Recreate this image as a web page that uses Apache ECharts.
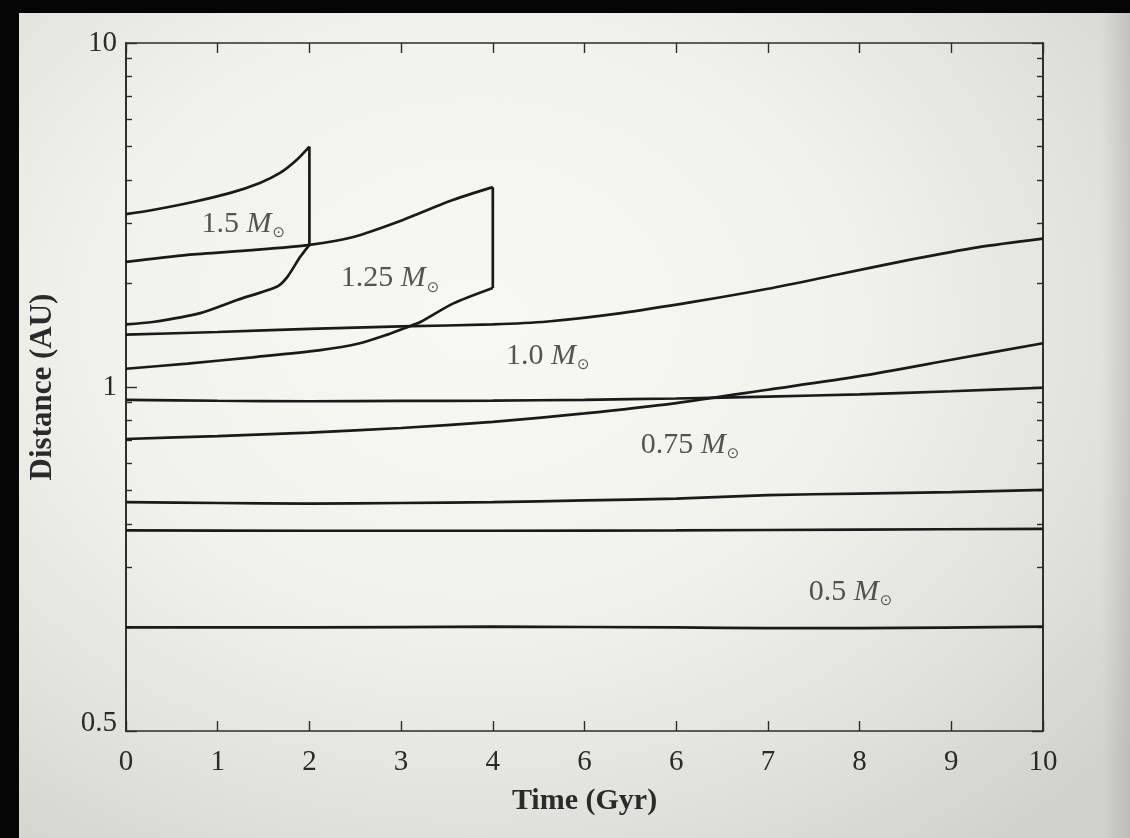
<!DOCTYPE html>
<html>
<head>
<meta charset="utf-8">
<title>Habitable zone evolution</title>
<script src="https://cdn.jsdelivr.net/npm/echarts@6/dist/echarts.min.js"></script>
<style>
  html, body { margin: 0; padding: 0; width: 1130px; height: 838px; overflow: hidden; }
  body {
    background:
      linear-gradient(to right, rgba(0,0,0,0) 97.5%, rgba(150,150,146,0.35) 100%),
      radial-gradient(ellipse 75% 80% at 42% 38%, #f9f9f4 0%, #f2f2ed 45%, #e2e2dd 75%, #d2d2cd 100%);
  }
  #chart { position: absolute; left: 0; top: 0; width: 1130px; height: 838px; }
</style>
</head>
<body>
<div id="chart"></div>
<script>
// Inner and outer habitable-zone edges (AU) against stellar age (Gyr)
// for stars of 1.5, 1.25, 1.0, 0.75 and 0.5 solar masses.

// Axis tick labels, as printed on the figure
const xTickLabels = ['0', '1', '2', '3', '4', '6', '6', '7', '8', '9', '10'];
const yMajorTicks = [0.1, 1, 10];
const yMajorLabels = ['0.5', '1', '10'];
const yMinorTicks = [0.2, 0.3, 0.4, 0.5, 0.6, 0.7, 0.8, 0.9, 2, 3, 4, 5, 6, 7, 8, 9];

const massNames = ['1.5', '1.25', '1.0', '0.75', '0.5'];

// 1.5 solar masses (track ends at 2 Gyr)
const outer15T  = [0, 0.29, 0.73, 1.13, 1.46, 1.68, 1.86, 2.0];
const outer15AU = [3.18, 3.27, 3.45, 3.66, 3.92, 4.19, 4.57, 5.0];
const inner15T  = [0, 0.29, 0.81, 1.21, 1.65, 1.76, 1.90, 2.0];
const inner15AU = [1.52, 1.545, 1.64, 1.79, 1.96, 2.09, 2.39, 2.59];

// 1.25 solar masses (track ends at 4 Gyr)
const outer125T  = [0, 0.67, 1.38, 2.0, 2.48, 3.02, 3.57, 4.0];
const outer125AU = [2.31, 2.42, 2.50, 2.59, 2.73, 3.06, 3.50, 3.81];
const inner125T  = [0, 0.67, 1.38, 2.12, 2.55, 2.85, 3.06, 3.21, 3.57, 4.0];
const inner125AU = [1.13, 1.17, 1.22, 1.28, 1.34, 1.42, 1.49, 1.545, 1.75, 1.94];

// 1.0 solar mass
const outer10T  = [0, 1, 2, 3, 4, 4.6, 5.4, 6.2, 7, 7.75, 8.5, 9.3, 10];
const outer10AU = [1.42, 1.445, 1.475, 1.50, 1.52, 1.55, 1.64, 1.77, 1.93, 2.12, 2.33, 2.55, 2.70];
const inner10T  = [0, 1, 2, 3, 4, 5, 6, 7, 8, 9, 10];
const inner10AU = [0.917, 0.912, 0.909, 0.911, 0.913, 0.918, 0.926, 0.938, 0.952, 0.972, 0.995];

// 0.75 solar mass
const outer075T  = [0, 1, 2, 3, 4, 5, 6, 7, 8, 9, 10];
const outer075AU = [0.706, 0.720, 0.737, 0.760, 0.792, 0.838, 0.898, 0.982, 1.075, 1.20, 1.34];
const inner075T  = [0, 1, 2, 3, 4, 5, 6, 7, 8, 9, 10];
const inner075AU = [0.463, 0.460, 0.458, 0.460, 0.463, 0.468, 0.474, 0.485, 0.490, 0.495, 0.502];

// 0.5 solar mass
const outer05T  = [0, 2, 4, 6, 8, 10];
const outer05AU = [0.383, 0.382, 0.382, 0.383, 0.385, 0.387];
const inner05T  = [0, 2, 4, 6, 7, 8, 10];
const inner05AU = [0.200, 0.200, 0.201, 0.200, 0.199, 0.199, 0.201];

// Where each mass label sits (data coordinates)
const labelT  = [1.28, 2.88, 4.60, 6.15, 7.90];
const labelAU = [2.98, 2.07, 1.23, 0.678, 0.254];

// ---------------------------------------------------------------
const SERIF = '"Liberation Serif", "DejaVu Serif", serif';
const INK = '#1a1a1a';
const TEXT = '#2a2a2a';
const FRAME = '#2c2c2c';

const zip = (t, v) => t.map((x, i) => [x, v[i]]);

const tracks = [
  { outerT: outer15T,  outerAU: outer15AU,  innerT: inner15T,  innerAU: inner15AU,  capped: true },
  { outerT: outer125T, outerAU: outer125AU, innerT: inner125T, innerAU: inner125AU, capped: true },
  { outerT: outer10T,  outerAU: outer10AU,  innerT: inner10T,  innerAU: inner10AU,  capped: false },
  { outerT: outer075T, outerAU: outer075AU, innerT: inner075T, innerAU: inner075AU, capped: false },
  { outerT: outer05T,  outerAU: outer05AU,  innerT: inner05T,  innerAU: inner05AU,  capped: false }
];

const lineStyle = { color: INK, width: 2.7 };
const series = [];
tracks.forEach((tr, k) => {
  const base = {
    type: 'line', xAxisIndex: 0, yAxisIndex: 0, showSymbol: false, symbol: 'none',
    smooth: 0.25, lineStyle, silent: true, z: 3, name: massNames[k]
  };
  series.push(Object.assign({}, base, { data: zip(tr.outerT, tr.outerAU) }));
  series.push(Object.assign({}, base, { data: zip(tr.innerT, tr.innerAU) }));
  if (tr.capped) {
    // vertical closing edge where the track stops
    const n = tr.outerT.length - 1, m = tr.innerT.length - 1;
    series.push(Object.assign({}, base, {
      smooth: false,
      data: [[tr.innerT[m], tr.innerAU[m]], [tr.outerT[n], tr.outerAU[n]]]
    }));
  }
});

// mass labels, e.g. "1.5 M⊙"
series.push({
  type: 'scatter', xAxisIndex: 0, yAxisIndex: 0, silent: true, z: 5,
  symbolSize: 1, itemStyle: { color: 'rgba(0,0,0,0)' },
  data: labelT.map((t, i) => ({ value: [t, labelAU[i]], name: massNames[i] })),
  label: {
    show: true, position: 'inside',
    formatter: p => '{n|' + p.name + ' }{m|M}{s|⊙}',
    rich: {
      n: { fontFamily: SERIF, fontSize: 30, color: TEXT },
      m: { fontFamily: SERIF, fontSize: 30, fontStyle: 'italic', color: TEXT },
      s: { fontFamily: '"DejaVu Sans", sans-serif', fontSize: 15, color: TEXT, padding: [19, 0, 0, 1] }
    }
  }
});

const axisLine = { show: true, onZero: false, lineStyle: { color: FRAME, width: 1.7 } };
const tickLine = { color: FRAME, width: 1.4 };

const yBase = {
  type: 'log', logBase: 10, min: 0.1, max: 10,
  splitLine: { show: false }, axisLine
};

function majorIndex(v) {
  return yMajorTicks.findIndex(t => Math.abs(Math.log10(t) - Math.log10(v)) < 1e-6);
}

const option = {
  animation: false,
  backgroundColor: 'transparent',
  grid: { left: 126, right: 87, top: 43, bottom: 107, outerBoundsMode: 'none' },
  xAxis: [
    {
      type: 'value', min: 0, max: 10, interval: 1, position: 'bottom',
      name: 'Time (Gyr)', nameLocation: 'middle', nameGap: 55,
      nameTextStyle: { fontFamily: SERIF, fontWeight: 'bold', fontSize: 30, color: TEXT },
      axisLine, splitLine: { show: false },
      axisTick: { inside: true, length: 10, lineStyle: tickLine },
      axisLabel: {
        margin: 17, fontFamily: SERIF, fontSize: 29, color: TEXT,
        formatter: v => xTickLabels[Math.round(v)]
      }
    },
    {
      type: 'value', min: 0, max: 10, interval: 1, position: 'top',
      axisLine, splitLine: { show: false },
      axisTick: { inside: true, length: 10, lineStyle: tickLine },
      axisLabel: { show: false }
    }
  ],
  yAxis: [
    Object.assign({}, yBase, {
      position: 'left',
      name: 'Distance (AU)', nameLocation: 'middle', nameGap: 68,
      nameTextStyle: { fontFamily: SERIF, fontWeight: 'bold', fontSize: 31, color: TEXT },
      axisTick: { inside: true, length: 11, lineStyle: tickLine, customValues: yMajorTicks },
      axisLabel: {
        customValues: yMajorTicks, margin: 9, fontFamily: SERIF, fontSize: 29, color: TEXT,
        formatter: v => {
          const i = majorIndex(v);
          const s = i >= 0 ? yMajorLabels[i] : '';
          return i === 0 ? '{lo|' + s + '}' : s;
        },
        rich: { lo: { fontFamily: SERIF, fontSize: 29, color: TEXT, padding: [0, 0, 16, 0] } }
      }
    }),
    Object.assign({}, yBase, {
      position: 'left',
      axisTick: { inside: true, length: 6, lineStyle: tickLine, customValues: yMinorTicks },
      axisLabel: { show: false }
    }),
    Object.assign({}, yBase, {
      position: 'right',
      axisTick: { inside: true, length: 11, lineStyle: tickLine, customValues: yMajorTicks },
      axisLabel: { show: false }
    }),
    Object.assign({}, yBase, {
      position: 'right',
      axisTick: { inside: true, length: 6, lineStyle: tickLine, customValues: yMinorTicks },
      axisLabel: { show: false }
    })
  ],
  graphic: [
    // dark margins around the page
    { type: 'rect', left: 0, top: 0, shape: { width: 1130, height: 13 }, style: { fill: '#050505' }, z: 100 },
    { type: 'rect', left: 0, top: 0, shape: { width: 19, height: 838 }, style: { fill: '#050505' }, z: 100 }
  ],
  series
};

const chart = echarts.init(document.getElementById('chart'), null, { renderer: 'canvas' });
chart.setOption(option);
</script>
</body>
</html>
